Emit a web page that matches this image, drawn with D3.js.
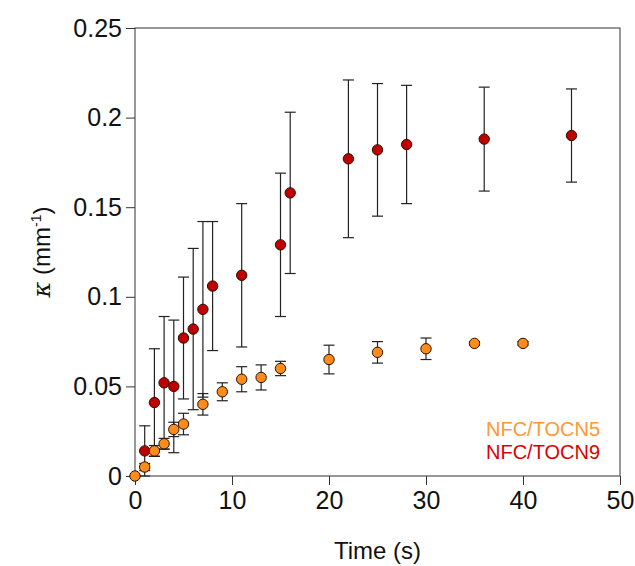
<!DOCTYPE html>
<html>
<head>
<meta charset="utf-8">
<script src="https://cdnjs.cloudflare.com/ajax/libs/d3/7.8.5/d3.min.js"></script>
<style>
  body { margin: 0; background: #fff; }
  svg { font-family: "Liberation Sans", Arial, sans-serif; }
</style>
</head>
<body>
<div class="chart"></div>
<script>
// data
var timeTOCN5 = [0, 1, 2, 3, 4, 5, 7, 9, 11, 13, 15, 20, 25, 30, 35, 40];
var kappaTOCN5 = [0, 0.005, 0.014, 0.018, 0.026, 0.029, 0.040, 0.047, 0.054, 0.055, 0.060, 0.065, 0.069, 0.071, 0.074, 0.074];
var errTOCN5 = [0, 0.002, 0.003, 0.003, 0.004, 0.006, 0.006, 0.005, 0.007, 0.007, 0.004, 0.008, 0.006, 0.006, 0.001, 0.001];

var timeTOCN9 = [1, 2, 3, 4, 5, 6, 7, 8, 11, 15, 16, 22, 25, 28, 36, 45];
var kappaTOCN9 = [0.014, 0.041, 0.052, 0.050, 0.077, 0.082, 0.093, 0.106, 0.112, 0.129, 0.158, 0.177, 0.182, 0.185, 0.188, 0.190];
var errTOCN9 = [0.014, 0.030, 0.037, 0.037, 0.034, 0.045, 0.049, 0.036, 0.040, 0.040, 0.045, 0.044, 0.037, 0.033, 0.029, 0.026];

var xTicks = [0, 10, 20, 30, 40, 50];
var yTicks = [0, 0.05, 0.1, 0.15, 0.2, 0.25];
var seriesNames = ["NFC/TOCN5", "NFC/TOCN9"];

var svgWidth = 635;
var svgHeight = 566;
var margin = { top: 28, right: 15, bottom: 90, left: 135 };
var width = svgWidth - margin.left - margin.right;
var height = svgHeight - margin.top - margin.bottom;

var svg = d3.select(".chart")
    .append("svg")
    .attr("width", svgWidth)
    .attr("height", svgHeight);

var chartGroup = svg.append("g")
    .attr("transform", `translate(${margin.left}, ${margin.top})`);

var xScale = d3.scaleLinear().domain([0, 50]).range([0, width]);
var yScale = d3.scaleLinear().domain([0, 0.25]).range([height, 0]);

// axes, ticks pointing outward
var bottomAxis = d3.axisBottom(xScale).tickValues(xTicks).tickSize(9).tickSizeOuter(0).tickPadding(6);
var leftAxis = d3.axisLeft(yScale).tickValues(yTicks).tickSize(9).tickSizeOuter(0).tickPadding(4)
    .tickFormat(d => String(d));

var xAxis = chartGroup.append("g")
    .attr("transform", `translate(0, ${height})`)
    .call(bottomAxis);
var yAxis = chartGroup.append("g")
    .call(leftAxis);

[xAxis, yAxis].forEach(function(ax) {
  ax.select(".domain").remove();
  ax.selectAll("line").attr("stroke", "#333");
  ax.selectAll("text").attr("fill", "#111").style("font-size", "25px");
});

// frame round the plot
chartGroup.append("rect")
    .attr("x", 0)
    .attr("y", 0)
    .attr("width", width)
    .attr("height", height)
    .attr("fill", "none")
    .attr("stroke", "#333")
    .attr("stroke-width", 1);

// draw one series: error bars then markers
function drawSeries(times, values, errs, fill) {
  var data = times.map((t, i) => ({ t: t, v: values[i], e: errs[i] }));
  var g = chartGroup.append("g");
  var bars = g.selectAll(".err")
      .data(data.filter(d => d.e > 0))
      .enter()
      .append("g")
      .attr("stroke", "#222")
      .attr("stroke-width", 1.2);
  bars.append("line")
      .attr("x1", d => xScale(d.t))
      .attr("x2", d => xScale(d.t))
      .attr("y1", d => yScale(d.v - d.e))
      .attr("y2", d => yScale(d.v + d.e));
  bars.append("line")
      .attr("x1", d => xScale(d.t) - 5.5)
      .attr("x2", d => xScale(d.t) + 5.5)
      .attr("y1", d => yScale(d.v + d.e))
      .attr("y2", d => yScale(d.v + d.e));
  bars.append("line")
      .attr("x1", d => xScale(d.t) - 5.5)
      .attr("x2", d => xScale(d.t) + 5.5)
      .attr("y1", d => yScale(d.v - d.e))
      .attr("y2", d => yScale(d.v - d.e));

  g.selectAll("circle")
      .data(data)
      .enter()
      .append("circle")
      .attr("cx", d => xScale(d.t))
      .attr("cy", d => yScale(d.v))
      .attr("r", 5.2)
      .attr("fill", fill)
      .attr("stroke", "#2a1000")
      .attr("stroke-width", 1);
}

drawSeries(timeTOCN9, kappaTOCN9, errTOCN9, "#c00000");
drawSeries(timeTOCN5, kappaTOCN5, errTOCN5, "#ff8c1a");

// legend text
var legendColors = ["#ff9933", "#dd0000"];
chartGroup.selectAll(".legend")
    .data(seriesNames)
    .enter()
    .append("text")
    .attr("x", 351)
    .attr("y", (d, i) => 408 + i * 23)
    .attr("fill", (d, i) => legendColors[i])
    .style("font-size", "20px")
    .text(d => d);

// x-axis title
chartGroup.append("text")
    .attr("x", width / 2)
    .attr("y", height + 83)
    .attr("text-anchor", "middle")
    .attr("fill", "#111")
    .style("font-size", "24px")
    .text("Time (s)");

// y-axis title
var yTitle = svg.append("text")
    .attr("transform", `translate(50, ${margin.top + height / 2}) rotate(-90)`)
    .attr("text-anchor", "middle")
    .attr("fill", "#111")
    .style("font-size", "24px");
yTitle.append("tspan").style("font-style", "italic").style("font-family", "DejaVu Serif, serif").text("κ");
yTitle.append("tspan").text(" (mm");
yTitle.append("tspan").attr("dy", -9).style("font-size", "14px").text("-1");
yTitle.append("tspan").attr("dy", 9).text(")");
</script>
</body>
</html>
